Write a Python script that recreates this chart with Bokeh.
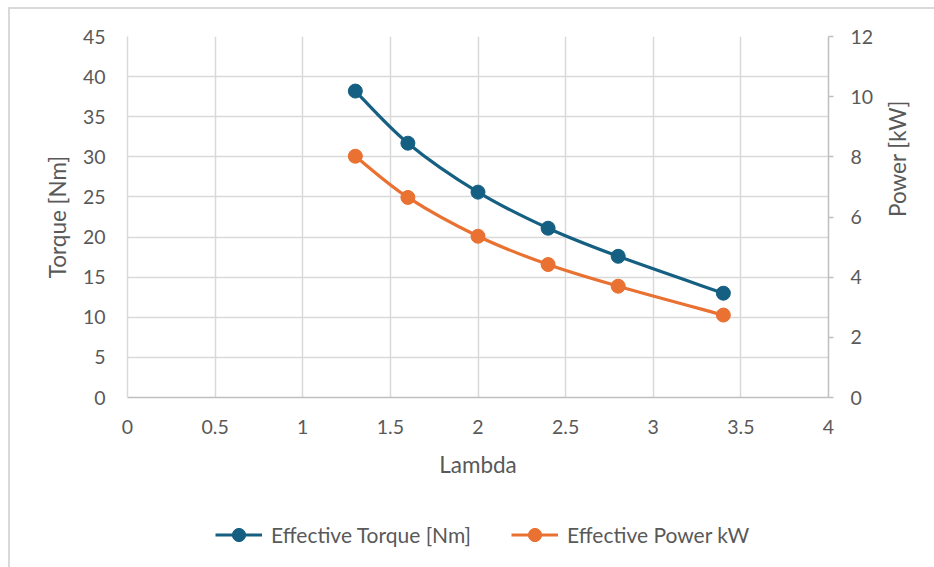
import math
from bokeh.plotting import figure
from bokeh.layouts import column
from bokeh.models import (Range1d, LinearAxis, FixedTicker, Legend, LegendItem)
from bokeh.embed import file_html
from bokeh.resources import INLINE

# Measured operating points
lam = [1.3, 1.6, 2.0, 2.4, 2.8, 3.4]
torque_nm = [38.2, 31.7, 25.6, 21.1, 17.6, 13.0]
power_kw = [8.02, 6.65, 5.36, 4.42, 3.70, 2.74]

x_ticks = [0, 0.5, 1, 1.5, 2, 2.5, 3, 3.5, 4]
x_tick_labels = ["0", "0.5", "1", "1.5", "2", "2.5", "3", "3.5", "4"]
torque_ticks = [0, 5, 10, 15, 20, 25, 30, 35, 40, 45]
power_ticks = [0, 2, 4, 6, 8, 10, 12]

series_names = ["Effective Torque [Nm]", "Effective Power kW"]

TORQUE_COLOR = "#156082"
POWER_COLOR = "#E97132"
TEXT_COLOR = "#595959"
GRID_COLOR = "#D9D9D9"
FONT = "Lato"


def smooth_segments(xs, ys):
    """Cubic Bezier pieces through the points (Catmull-Rom style smoothing)."""
    n = len(xs)
    out = {"x0": [], "y0": [], "x1": [], "y1": [], "cx0": [], "cy0": [], "cx1": [], "cy1": []}
    for i in range(n - 1):
        p0 = (xs[max(i - 1, 0)], ys[max(i - 1, 0)])
        p1 = (xs[i], ys[i])
        p2 = (xs[i + 1], ys[i + 1])
        p3 = (xs[min(i + 2, n - 1)], ys[min(i + 2, n - 1)])
        out["x0"].append(p1[0]); out["y0"].append(p1[1])
        out["x1"].append(p2[0]); out["y1"].append(p2[1])
        out["cx0"].append(p1[0] + (p2[0] - p0[0]) / 6.0)
        out["cy0"].append(p1[1] + (p2[1] - p0[1]) / 6.0)
        out["cx1"].append(p2[0] - (p3[0] - p1[0]) / 6.0)
        out["cy1"].append(p2[1] - (p3[1] - p1[1]) / 6.0)
    return out


p = figure(
    width=924, height=488,
    frame_width=701, frame_height=361,
    x_range=Range1d(0, 4), y_range=Range1d(0, 45),
    output_backend="svg", toolbar_location=None,
    min_border_left=117, min_border_top=27,
    min_border_right=106, min_border_bottom=100,
)
p.extra_y_ranges = {"power": Range1d(0, 12)}
p.outline_line_color = None
p.background_fill_color = "white"
p.border_fill_color = "white"

# Grid
p.xgrid.ticker = FixedTicker(ticks=x_ticks)
p.ygrid.ticker = FixedTicker(ticks=torque_ticks)
for g in (p.xgrid, p.ygrid):
    g.grid_line_color = GRID_COLOR
    g.grid_line_width = 1.5

# Bottom axis
xa = p.xaxis[0]
xa.ticker = FixedTicker(ticks=x_ticks)
xa.major_label_overrides = {t: s for t, s in zip(x_ticks, x_tick_labels)}
xa.axis_label = "Lambda"

# Left axis
ya = p.yaxis[0]
ya.ticker = FixedTicker(ticks=torque_ticks)
ya.axis_label = "Torque [Nm]"

# Right axis
ra = LinearAxis(y_range_name="power", ticker=FixedTicker(ticks=power_ticks),
                axis_label="Power [kW]")
p.add_layout(ra, "right")

for ax in (xa, ya, ra):
    ax.major_label_text_font = FONT
    ax.major_label_text_font_size = "19.5px"
    ax.major_label_text_color = TEXT_COLOR
    ax.axis_label_text_font = FONT
    ax.axis_label_text_font_size = "22.5px"
    ax.axis_label_text_font_style = "normal"
    ax.axis_label_text_color = TEXT_COLOR
    ax.minor_tick_line_color = None
    ax.major_tick_in = 0

xa.axis_line_color = "#BFBFBF"
xa.axis_line_width = 1.5
xa.major_tick_line_color = None
xa.major_tick_out = 0
xa.major_label_standoff = 22
xa.axis_label_standoff = 14

ya.axis_line_color = GRID_COLOR
ya.axis_line_width = 1.5
ya.major_tick_line_color = None
ya.major_tick_out = 0
ya.major_label_standoff = 22
ya.axis_label_standoff = 9

ra.axis_line_color = "#BFBFBF"
ra.axis_line_width = 1.5
ra.major_tick_line_color = "#BFBFBF"
ra.major_tick_line_width = 1.5
ra.major_tick_out = 5
ra.major_label_standoff = 17
ra.axis_label_standoff = 21
# read bottom-to-top, centred on the frame
ra.axis_label_orientation = math.pi / 2
ra.axis_label_text_align = "center"

# Series: smoothed curves with round markers
tq = smooth_segments(lam, torque_nm)
pw = smooth_segments(lam, power_kw)

p.bezier(source=tq, x0="x0", y0="y0", x1="x1", y1="y1",
         cx0="cx0", cy0="cy0", cx1="cx1", cy1="cy1",
         line_color=TORQUE_COLOR, line_width=3.2)
p.scatter(lam, torque_nm, size=14, fill_color=TORQUE_COLOR, line_color=TORQUE_COLOR)

p.bezier(source=pw, x0="x0", y0="y0", x1="x1", y1="y1",
         cx0="cx0", cy0="cy0", cx1="cx1", cy1="cy1",
         line_color=POWER_COLOR, line_width=3.2, y_range_name="power")
p.scatter(lam, power_kw, size=14, fill_color=POWER_COLOR, line_color=POWER_COLOR,
          y_range_name="power")

# Legend strip underneath the chart; its series sit outside the strip's ranges,
# so only their legend swatches show.
leg = figure(
    width=924, height=70,
    x_range=Range1d(0, 1), y_range=Range1d(0, 1),
    x_axis_type=None, y_axis_type=None,
    output_backend="svg", toolbar_location=None, min_border=0,
)
leg.outline_line_color = None
leg.border_fill_color = "white"
leg.background_fill_color = "white"

items = []
for name, color, vals in zip(series_names, [TORQUE_COLOR, POWER_COLOR], [torque_nm, power_kw]):
    ln = leg.line(x=lam, y=vals, line_color=color, line_width=3.2)
    mk = leg.scatter(x=lam, y=vals, size=14, fill_color=color, line_color=color)
    items.append(LegendItem(label=name, renderers=[ln, mk]))

legend = Legend(
    items=items,
    orientation="horizontal",
    location=(88, 16),
    label_text_font=FONT, label_text_font_size="21px", label_text_color=TEXT_COLOR,
    glyph_width=47, glyph_height=33, label_standoff=9, spacing=40,
    padding=0, margin=0,
    border_line_alpha=0, background_fill_alpha=0,
)
leg.add_layout(legend, "center")

page = column(
    p, leg, spacing=0,
    margin=(7, 0, 0, 8),
    styles={"border-left": "2px solid #D9D9D9", "border-top": "2px solid #D9D9D9"},
)

open("out.html", "w").write(file_html(page, INLINE))
